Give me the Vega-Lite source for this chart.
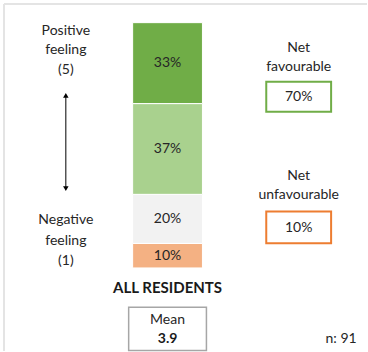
{
  "$schema": "https://vega.github.io/schema/vega-lite/v6.json",
  "width": 368,
  "height": 352,
  "padding": 0,
  "autosize": {"type": "fit", "contains": "padding"},
  "background": "white",
  "config": {
    "view": {"stroke": null},
    "text": {"font": "Lato", "fontSize": 14, "color": "#262626"}
  },
  "datasets": {
    "ratings": [
      {"group": "ALL RESIDENTS", "rating": "Negative (1-2)", "share": 0.10, "rank": 1},
      {"group": "ALL RESIDENTS", "rating": "Neutral (3)", "share": 0.20, "rank": 2},
      {"group": "ALL RESIDENTS", "rating": "Positive (4)", "share": 0.37, "rank": 3},
      {"group": "ALL RESIDENTS", "rating": "Very positive (5)", "share": 0.33, "rank": 4}
    ]
  },
  "encoding": {
    "x": {"type": "quantitative", "scale": {"domain": [-1.9, 3.3571], "nice": false, "zero": false}, "axis": null},
    "y": {"type": "quantitative", "scale": {"domain": [-0.3386, 1.0923], "nice": false, "zero": false}, "axis": null}
  },
  "layer": [
    {
      "data": {"values": [{"edge": "top"}]},
      "mark": {"type": "rule", "color": "#e4e4e4", "strokeWidth": 2},
      "encoding": {"x": {"datum": -1.843}, "x2": {"datum": 3.3571}, "y": {"datum": 1.076}}
    },
    {
      "data": {"values": [{"edge": "left"}]},
      "mark": {"type": "rule", "color": "#e4e4e4", "strokeWidth": 2},
      "encoding": {"x": {"datum": -1.843}, "y": {"datum": 1.076}, "y2": {"datum": -0.3386}}
    },
    {
      "data": {"name": "ratings"},
      "transform": [
        {"stack": "share", "groupby": ["group"], "sort": [{"field": "rank"}], "as": ["lo", "hi"]}
      ],
      "mark": {"type": "rect", "stroke": "white", "strokeWidth": 1},
      "encoding": {
        "x": {"datum": 0},
        "x2": {"datum": 1},
        "y": {"field": "lo", "type": "quantitative"},
        "y2": {"field": "hi"},
        "color": {
          "field": "rating",
          "type": "nominal",
          "legend": null,
          "scale": {
            "domain": ["Negative (1-2)", "Neutral (3)", "Positive (4)", "Very positive (5)"],
            "range": ["#F4B183", "#F2F2F2", "#A9D18E", "#70AD47"]
          }
        }
      }
    },
    {
      "data": {"name": "ratings"},
      "transform": [
        {"stack": "share", "groupby": ["group"], "sort": [{"field": "rank"}], "as": ["lo", "hi"]},
        {"calculate": "(datum.lo + datum.hi) / 2", "as": "mid"}
      ],
      "mark": {"type": "text", "baseline": "middle", "align": "center"},
      "encoding": {
        "x": {"datum": 0.5},
        "y": {"field": "mid", "type": "quantitative"},
        "text": {"field": "share", "type": "quantitative", "format": ".0%"}
      }
    },
    {
      "data": {"values": [{"label": "Positive\nfeeling\n(5)"}]},
      "mark": {"type": "text", "lineBreak": "\n", "lineHeight": 19.7, "baseline": "middle"},
      "encoding": {"x": {"datum": -0.957}, "y": {"datum": 0.9675}, "text": {"field": "label"}}
    },
    {
      "data": {"values": [{"label": "Negative\nfeeling\n(1)"}]},
      "mark": {"type": "text", "lineBreak": "\n", "lineHeight": 20.3, "baseline": "middle"},
      "encoding": {"x": {"datum": -0.957}, "y": {"datum": 0.194}, "text": {"field": "label"}}
    },
    {
      "data": {"values": [{"part": "shaft"}]},
      "mark": {"type": "rule", "color": "#000000", "strokeWidth": 1},
      "encoding": {"x": {"datum": -0.957}, "y": {"datum": 0.70}, "y2": {"datum": 0.326}}
    },
    {
      "data": {"values": [{"head": "triangle-up", "end": "top"}]},
      "mark": {"type": "point", "shape": "triangle-up", "filled": true, "color": "#000000", "size": 30, "opacity": 1},
      "encoding": {"x": {"datum": -0.957}, "y": {"datum": 0.703}}
    },
    {
      "data": {"values": [{"head": "triangle-down", "end": "bottom"}]},
      "mark": {"type": "point", "shape": "triangle-down", "filled": true, "color": "#000000", "size": 30, "opacity": 1},
      "encoding": {"x": {"datum": -0.957}, "y": {"datum": 0.323}}
    },
    {
      "data": {"values": [{"label": "Net\nfavourable"}]},
      "mark": {"type": "text", "lineBreak": "\n", "lineHeight": 18.5, "baseline": "middle"},
      "encoding": {"x": {"datum": 2.379}, "y": {"datum": 0.896}, "text": {"field": "label"}}
    },
    {
      "data": {"values": [{"box": "favourable"}]},
      "mark": {"type": "rect", "fill": "white", "stroke": "#70AD47", "strokeWidth": 2},
      "encoding": {"x": {"datum": 1.914}, "x2": {"datum": 2.843}, "y": {"datum": 0.759}, "y2": {"datum": 0.637}}
    },
    {
      "data": {"values": [{"label": "70%"}]},
      "mark": {"type": "text", "baseline": "middle"},
      "encoding": {"x": {"datum": 2.379}, "y": {"datum": 0.698}, "text": {"field": "label"}}
    },
    {
      "data": {"values": [{"label": "Net\nunfavourable"}]},
      "mark": {"type": "text", "lineBreak": "\n", "lineHeight": 19, "baseline": "middle"},
      "encoding": {"x": {"datum": 2.379}, "y": {"datum": 0.3728}, "text": {"field": "label"}}
    },
    {
      "data": {"values": [{"box": "unfavourable"}]},
      "mark": {"type": "rect", "fill": "white", "stroke": "#ED7D31", "strokeWidth": 2},
      "encoding": {"x": {"datum": 1.914}, "x2": {"datum": 2.843}, "y": {"datum": 0.2305}, "y2": {"datum": 0.1004}}
    },
    {
      "data": {"values": [{"label": "10%"}]},
      "mark": {"type": "text", "baseline": "middle"},
      "encoding": {"x": {"datum": 2.379}, "y": {"datum": 0.164}, "text": {"field": "label"}}
    },
    {
      "data": {"values": [{"label": "ALL RESIDENTS"}]},
      "mark": {"type": "text", "baseline": "middle", "fontWeight": "bold", "fontSize": 15, "color": "#1a1a1a"},
      "encoding": {"x": {"datum": 0.5}, "y": {"datum": -0.080}, "text": {"field": "label"}}
    },
    {
      "data": {"values": [{"box": "mean"}]},
      "mark": {"type": "rect", "fill": "white", "stroke": "#a6a6a6", "strokeWidth": 1.5},
      "encoding": {"x": {"datum": -0.057}, "x2": {"datum": 1.057}, "y": {"datum": -0.160}, "y2": {"datum": -0.337}}
    },
    {
      "data": {"values": [{"label": "Mean"}]},
      "mark": {"type": "text", "baseline": "middle"},
      "encoding": {"x": {"datum": 0.5}, "y": {"datum": -0.213}, "text": {"field": "label"}}
    },
    {
      "data": {"values": [{"mean": 3.9}]},
      "mark": {"type": "text", "baseline": "middle", "fontWeight": "bold", "color": "#1a1a1a"},
      "encoding": {"x": {"datum": 0.5}, "y": {"datum": -0.290}, "text": {"field": "mean", "type": "quantitative", "format": ".1f"}}
    },
    {
      "data": {"values": [{"label": "n: 91"}]},
      "mark": {"type": "text", "baseline": "middle"},
      "encoding": {"x": {"datum": 2.986}, "y": {"datum": -0.290}, "text": {"field": "label"}}
    }
  ]
}
